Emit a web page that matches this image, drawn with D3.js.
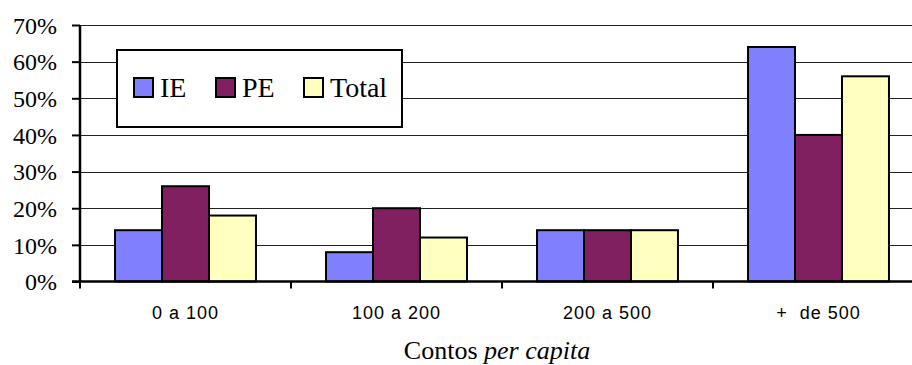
<!DOCTYPE html>
<html>
<head>
<meta charset="utf-8">
<script src="https://cdn.jsdelivr.net/npm/d3@7"></script>
<style>
  html, body { margin: 0; padding: 0; background: #fff; }
  svg { display: block; overflow: hidden; }
</style>
</head>
<body>
<svg id="chart" width="912" height="365"></svg>
<script>
const categories = ["0 a 100", "100 a 200", "200 a 500", "+  de 500"];
const seriesNames = ["IE", "PE", "Total"];
const ieValues = [0.14, 0.08, 0.14, 0.64];
const peValues = [0.26, 0.20, 0.14, 0.40];
const totalValues = [0.18, 0.12, 0.14, 0.56];
const yTicks = [0, 0.1, 0.2, 0.3, 0.4, 0.5, 0.6, 0.7];
const colors = ["#8080ff", "#802060", "#ffffc0"];
const axisTitle = "Contos ";
const axisTitleItalic = "per capita";

const seriesValues = [ieValues, peValues, totalValues];
const data = categories.map((c, i) => ({
  cat: c,
  vals: seriesNames.map((s, j) => ({ key: s, value: seriesValues[j][i] }))
}));

const svg = d3.select("#chart");
const mLeft = 80, mRight = 924, mTop = 25, mBottom = 281.5;

const x = d3.scaleBand().domain(categories).range([mLeft, mRight])
  .paddingInner(0.332).paddingOuter(0.166);
const xs = d3.scaleBand().domain(seriesNames).range([0, x.bandwidth()]);
const y = d3.scaleLinear().domain([0, 0.7]).range([mBottom, mTop]);
const color = d3.scaleOrdinal().domain(seriesNames).range(colors);

// gridlines
svg.append("g").selectAll("line").data(yTicks.filter(d => d > 0)).join("line")
  .attr("x1", mLeft).attr("x2", 912)
  .attr("y1", d => Math.round(y(d)) + 0.5).attr("y2", d => Math.round(y(d)) + 0.5)
  .attr("stroke", "#222").attr("stroke-width", 1);

// bars
const groups = svg.append("g").selectAll("g").data(data).join("g")
  .attr("transform", d => `translate(${x(d.cat)},0)`);
groups.selectAll("rect").data(d => d.vals).join("rect")
  .attr("x", d => xs(d.key))
  .attr("width", xs.bandwidth())
  .attr("y", d => y(d.value))
  .attr("height", d => y(0) - y(d.value))
  .attr("fill", d => color(d.key))
  .attr("stroke", "#000").attr("stroke-width", 2);

// y axis
const yAxis = svg.append("g").attr("transform", `translate(${mLeft},0)`)
  .call(d3.axisLeft(y).tickValues(yTicks).tickFormat(d3.format(".0%")).tickSize(8).tickPadding(15));
yAxis.select(".domain").attr("stroke", "#000").attr("stroke-width", 2.5)
  .attr("d", `M0,${mTop}V${mBottom}`);
yAxis.selectAll(".tick line").attr("stroke", "#000").attr("stroke-width", 2);
yAxis.selectAll("text").attr("font-family", "'Liberation Serif', 'Times New Roman', serif")
  .attr("font-size", 24).attr("fill", "#000").attr("dy", "0.34em");

// x axis baseline and boundary ticks
svg.append("line").attr("x1", mLeft - 8).attr("x2", 912)
  .attr("y1", mBottom).attr("y2", mBottom)
  .attr("stroke", "#000").attr("stroke-width", 2.5);
const gap = (x.step() - x.bandwidth()) / 2;
const bounds = categories.map(c => x(c) - gap);
svg.append("g").selectAll("line").data(bounds).join("line")
  .attr("x1", d => d).attr("x2", d => d)
  .attr("y1", mBottom).attr("y2", mBottom + 7)
  .attr("stroke", "#000").attr("stroke-width", 2);

const xAxis = svg.append("g").attr("transform", `translate(0,${mBottom})`)
  .call(d3.axisBottom(x).tickSize(0).tickPadding(0));
xAxis.select(".domain").remove();
xAxis.selectAll("text")
  .attr("y", 319 - mBottom).attr("dy", 0)
  .attr("font-family", "'Liberation Sans', Arial, sans-serif")
  .attr("font-size", 18).attr("letter-spacing", 1)
  .style("white-space", "pre")
  .attr("fill", "#000");

// axis title
const t = svg.append("text").attr("x", 497).attr("y", 359)
  .attr("text-anchor", "middle")
  .attr("font-family", "'Liberation Serif', 'Times New Roman', serif")
  .attr("font-size", 26).attr("fill", "#000");
t.append("tspan").text(axisTitle).style("white-space", "pre");
t.append("tspan").attr("font-style", "italic").text(axisTitleItalic);

// legend
const lg = svg.append("g");
lg.append("rect").attr("x", 117).attr("y", 50).attr("width", 285).attr("height", 77)
  .attr("fill", "#fff").attr("stroke", "#000").attr("stroke-width", 2);
const itemX = [134, 216, 304];
const items = lg.selectAll("g").data(seriesNames).join("g")
  .attr("transform", (d, i) => `translate(${itemX[i]},78)`);
items.append("rect").attr("width", 19).attr("height", 19)
  .attr("fill", d => color(d)).attr("stroke", "#000").attr("stroke-width", 2);
items.append("text").attr("x", 26).attr("y", 19)
  .attr("font-family", "'Liberation Serif', 'Times New Roman', serif")
  .attr("font-size", 28).attr("fill", "#000").text(d => d);
</script>
</body>
</html>
